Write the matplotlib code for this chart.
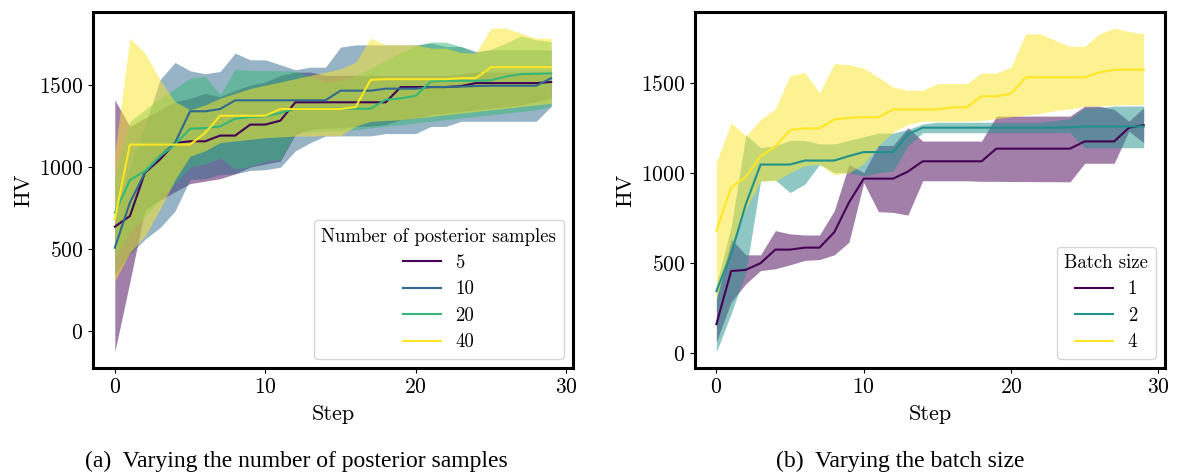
import numpy as np
import matplotlib
matplotlib.use("Agg")
import matplotlib.pyplot as plt

plt.rcParams['font.family'] = ['cmr10', 'DejaVu Serif']
plt.rcParams['mathtext.fontset'] = 'cm'
plt.rcParams['axes.formatter.use_mathtext'] = True

steps = np.arange(30)

# (a) number of posterior samples
samples_labels = ["5", "10", "20", "40"]
samples_mean = [
    [637, 702, 966, 1047, 1148, 1158, 1158, 1193, 1193, 1260, 1260, 1284, 1396, 1396, 1396,
     1396, 1396, 1396, 1396, 1489, 1489, 1489, 1489, 1495, 1513, 1513, 1513, 1513, 1513, 1520],
    [509, 783, 966, 1067, 1148, 1341, 1341, 1355, 1408, 1408, 1408, 1408, 1408, 1408, 1408,
     1467, 1467, 1467, 1479, 1479, 1479, 1489, 1489, 1492, 1495, 1497, 1497, 1497, 1497, 1543],
    [722, 921, 976, 1067, 1138, 1235, 1239, 1249, 1296, 1306, 1310, 1331, 1357, 1357, 1357,
     1357, 1357, 1357, 1412, 1420, 1436, 1523, 1527, 1527, 1527, 1530, 1553, 1568, 1570, 1572],
    [681, 1138, 1138, 1138, 1138, 1138, 1209, 1314, 1314, 1314, 1314, 1355, 1355, 1355, 1355,
     1355, 1367, 1533, 1537, 1537, 1537, 1537, 1537, 1543, 1543, 1610, 1610, 1610, 1610, 1610],
]
samples_low = [
    [-126, 300, 740, 800, 850, 900, 915, 930, 960, 1000, 1020, 1037, 1200, 1230, 1240,
     1240, 1250, 1250, 1260, 1290, 1300, 1320, 1330, 1340, 1350, 1360, 1370, 1380, 1400, 1420],
    [350, 470, 560, 631, 732, 925, 930, 955, 960, 980, 985, 1000, 1100, 1150, 1190,
     1191, 1191, 1191, 1205, 1205, 1205, 1249, 1249, 1280, 1280, 1280, 1280, 1280, 1280, 1371],
    [450, 600, 700, 800, 900, 1000, 1020, 1057, 986, 1006, 1037, 1047, 1209, 1215, 1220,
     1220, 1230, 1240, 1250, 1260, 1270, 1280, 1290, 1300, 1310, 1320, 1330, 1340, 1350, 1371],
    [306, 479, 580, 742, 925, 1067, 1100, 1150, 1160, 1170, 1180, 1185, 1190, 1190, 1193,
     1193, 1250, 1280, 1285, 1290, 1300, 1310, 1320, 1330, 1340, 1350, 1360, 1370, 1380, 1390],
]
samples_high = [
    [1410, 1250, 1300, 1350, 1400, 1420, 1450, 1430, 1470, 1500, 1520, 1560, 1580, 1580, 1560,
     1560, 1560, 1560, 1560, 1560, 1560, 1560, 1560, 1570, 1580, 1580, 1580, 1580, 1580, 1580],
    [670, 1000, 1250, 1533, 1639, 1588, 1570, 1584, 1696, 1655, 1655, 1625, 1594, 1610, 1610,
     1732, 1746, 1746, 1746, 1746, 1746, 1757, 1736, 1736, 1706, 1716, 1716, 1716, 1716, 1716],
    [950, 1280, 1350, 1420, 1480, 1543, 1553, 1442, 1598, 1590, 1590, 1588, 1585, 1553, 1517,
     1530, 1560, 1600, 1650, 1700, 1740, 1763, 1763, 1736, 1696, 1720, 1757, 1801, 1777, 1767],
    [1087, 1787, 1696, 1533, 1400, 1350, 1380, 1420, 1450, 1480, 1500, 1520, 1540, 1560, 1580,
     1600, 1640, 1787, 1746, 1746, 1746, 1726, 1726, 1700, 1696, 1848, 1848, 1817, 1787, 1787],
]

# (b) batch size
batch_labels = ["1", "2", "4"]
batch_mean = [
    [162, 456, 463, 500, 575, 575, 586, 586, 671, 836, 968, 968, 968, 1007, 1064,
     1064, 1064, 1064, 1064, 1134, 1134, 1134, 1134, 1134, 1134, 1174, 1174, 1174, 1250, 1264],
    [345, 551, 827, 1046, 1046, 1046, 1068, 1068, 1068, 1093, 1115, 1115, 1115, 1213, 1250,
     1250, 1250, 1250, 1250, 1250, 1250, 1250, 1250, 1250, 1252, 1257, 1257, 1257, 1257, 1257],
    [680, 919, 978, 1093, 1145, 1237, 1246, 1246, 1295, 1305, 1308, 1308, 1351, 1351, 1351,
     1351, 1363, 1363, 1424, 1424, 1439, 1529, 1529, 1529, 1529, 1529, 1556, 1571, 1571, 1571],
]
batch_low = [
    [64, 285, 386, 459, 469, 491, 515, 520, 546, 616, 946, 785, 781, 766, 956,
     956, 956, 956, 953, 953, 952, 952, 951, 951, 950, 1053, 1053, 1053, 1231, 1167],
    [9, 220, 450, 955, 960, 891, 937, 1047, 1001, 1001, 983, 1000, 1010, 1150, 1222,
     1222, 1222, 1222, 1222, 1222, 1222, 1222, 1222, 1222, 1222, 1139, 1139, 1139, 1139, 1139],
    [303, 600, 800, 955, 955, 1000, 1040, 1047, 989, 1001, 1050, 1150, 1226, 1268, 1286,
     1286, 1286, 1286, 1290, 1300, 1310, 1320, 1330, 1345, 1354, 1369, 1372, 1375, 1378, 1378],
]
batch_high = [
    [300, 634, 546, 546, 680, 662, 656, 656, 790, 1047, 1001, 1152, 1152, 1250, 1176,
     1176, 1176, 1176, 1176, 1314, 1314, 1314, 1314, 1314, 1314, 1369, 1369, 1351, 1286, 1360],
    [380, 700, 1210, 1140, 1150, 1180, 1180, 1160, 1160, 1180, 1200, 1220, 1220, 1240, 1270,
     1280, 1280, 1280, 1280, 1280, 1280, 1280, 1280, 1290, 1300, 1360, 1360, 1370, 1370, 1370],
    [1057, 1277, 1204, 1295, 1354, 1538, 1556, 1442, 1604, 1599, 1580, 1529, 1476, 1457, 1457,
     1494, 1494, 1494, 1553, 1553, 1586, 1770, 1770, 1733, 1700, 1700, 1770, 1801, 1782, 1770],
]


def plot_panel(ax, labels, mean, low, high, title):
    cols = plt.cm.viridis(np.linspace(0, 1, len(labels)))
    for i, lab in enumerate(labels):
        ax.fill_between(steps, low[i], high[i], color=cols[i], alpha=0.5, linewidth=0)
        ax.plot(steps, mean[i], color=cols[i], lw=1.5, label=lab)
    ax.set_xlabel("Step", fontsize=16, labelpad=5)
    ax.set_ylabel("HV", fontsize=16)
    ax.set_xticks([0, 10, 20, 30])
    ax.set_yticks([0, 500, 1000, 1500])
    ax.tick_params(labelsize=15.5)
    for s in ax.spines.values():
        s.set_linewidth(2.2)
    leg = ax.legend(title=title, loc="lower right", fontsize=13.5, title_fontsize=13.5,
                    labelspacing=0.45)
    return leg


fig = plt.figure(figsize=(11.8, 4.74), dpi=100)
ax1 = fig.add_axes([0.0788, 0.2236, 0.4068, 0.7511])
ax2 = fig.add_axes([0.589, 0.2236, 0.3983, 0.7511])

plot_panel(ax1, samples_labels, samples_mean, samples_low, samples_high, "Number of posterior samples")
plot_panel(ax2, batch_labels, batch_mean, batch_low, batch_high, "Batch size")

fig.text(0.251, 0.004, "(a)  Varying the number of posterior samples", family="Liberation Serif",
         fontsize=17, ha="center", va="bottom")
fig.text(0.763, 0.004, "(b)  Varying the batch size", family="Liberation Serif",
         fontsize=17, ha="center", va="bottom")

fig.savefig("out.png", dpi=100)
